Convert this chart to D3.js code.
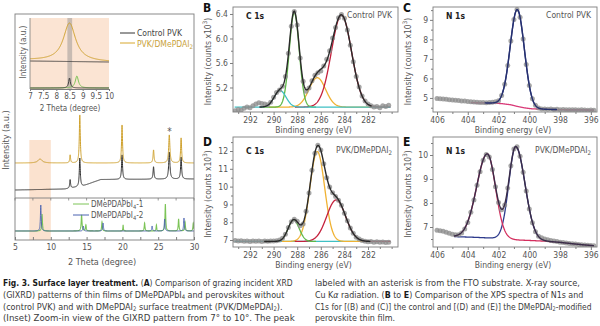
<!DOCTYPE html>
<html><head><meta charset="utf-8">
<script src="https://cdn.jsdelivr.net/npm/d3@7/dist/d3.min.js"></script>
<style>
html,body{margin:0;padding:0;background:#fff;overflow:hidden}
svg{display:block}
text{font-family:"Liberation Sans Narrow","Arial Narrow","DejaVu Sans Condensed","Liberation Sans",sans-serif}
</style></head><body>
<svg id="fig" width="600" height="326" viewBox="0 0 600 326"></svg>
<script>
// ================= DATA =================
// ---- Panel A (GIXRD) ----
const xrdTicks=[5,10,15,20,25,30];
const xrdMinor=[5,7.5,10,12.5,15,17.5,20,22.5,25,27.5,30];
const insetTicks=[7,7.5,8,8.5,9,9.5,10];
// baselines: [2theta, level]; peaks: [2theta, height, half-width]
const ctrlBase=[[5,7],[12,8],[14.5,11],[16,15],[17,17.5],[30,18]];
const ctrlPeaks=[[12.7,8.5,0.07],[14.05,28.5,0.08],[19.95,24.5,0.08],[24.35,12.4,0.08],[26.55,27,0.1],[28.2,22,0.08]];
const dmeBase=[[5,34],[30,34]];
const dmePeaks=[[8.5,4,0.35],[12.7,8,0.07],[14.05,48,0.08],[19.95,38,0.08],[24.35,13,0.08],[26.55,28,0.1],[28.2,25,0.08]];
const pbBase=[[5,9],[30,9]];
const pb1Peaks=[[8.78,17,0.06],[14.3,16,0.07],[14.9,6,0.06],[17.15,9,0.06],[20.1,6,0.04],[23.1,8,0.06],[24.75,6,0.05],[26.0,27,0.06],[27.85,12,0.06],[28.75,9,0.06],[29.9,8,0.06]];
const pb2Peaks=[[8.6,26,0.06],[14.55,5,0.06],[17.3,8,0.06],[24.15,5,0.06],[25.9,12,0.06],[28.6,13,0.06]];
// inset (7-10 deg)
const insetDmeBase=[[7,29],[10,27]];
const insetDmePeaks=[[8.5,38,0.28]];
const insetCtrlBase=[[7,28],[10,27]];
const insetLowBase=[[7,1],[10,1]];
const insetPb2Peaks=[[8.5,10,0.04]];
const insetPb1Peaks=[[8.78,12,0.07]];

// ---- Panels B & D (C 1s) ----
const bdE=[293.25,293,292.75,292.5,292.25,292,291.75,291.5,291.25,291,290.75,290.5,290.25,290,289.75,289.5,289.25,289,288.75,288.5,288.25,288,287.75,287.5,287.25,287,286.75,286.5,286.25,286,285.75,285.5,285.25,285,284.75,284.5,284.25,284,283.75,283.5,283.25,283,282.75,282.5,282.25,282,281.75,281.5,281.25,281,280.75,280.5,280.25];
const bI=[4.82,4.84,4.83,4.86,4.88,4.87,4.90,4.93,4.95,4.94,4.93,4.92,4.96,5.04,5.12,5.16,5.22,5.38,5.76,6.20,6.44,6.22,5.68,5.30,5.14,5.19,5.31,5.40,5.44,5.47,5.55,5.66,5.80,6.01,6.18,6.34,6.39,6.33,6.14,5.89,5.62,5.38,5.21,5.06,4.98,4.93,4.90,4.88,4.89,4.87,4.90,4.89,4.91];
const dI=[6.97,6.95,6.96,6.93,6.94,6.92,6.95,6.93,6.94,6.92,6.95,6.93,6.95,6.94,6.96,7.00,7.10,7.33,7.70,8.02,8.17,8.05,7.80,7.90,8.62,9.64,10.92,11.88,12.33,12.05,11.28,10.50,9.98,9.66,9.45,9.24,8.95,8.50,8.08,7.67,7.38,7.15,7.05,6.97,6.93,6.90,6.91,6.88,6.90,6.87,6.89,6.86,6.88];
const bBase=4.88, bCenters=[289.45,288.25,286.3,284.25], bAmps=[0.27,1.54,0.48,1.5], bWidths=[0.5,0.42,0.7,0.85];
const dBase=6.92, dCenters=[288.3,286.3,284.7], dAmps=[1.2,5.05,2.33], dWidths=[0.47,0.62,0.8];
const c1sMajor=[292,290,288,286,284,282], c1sMinor=[293,291,289,287,285,283,281,280];

// ---- Panels C & E (N 1s) ----
const ceE=[406,405.8,405.6,405.4,405.2,405,404.8,404.6,404.4,404.2,404,403.8,403.6,403.4,403.2,403,402.8,402.6,402.4,402.2,402,401.8,401.6,401.4,401.2,401,400.8,400.6,400.4,400.2,400,399.8,399.6,399.4,399.2,399,398.8,398.6,398.4,398.2,398,397.8,397.6,397.4,397.2,397,396.8,396.6,396.4,396.2,396,395.8];
const cI=[4.97,4.96,4.94,4.93,4.91,4.90,4.88,4.87,4.85,4.84,4.82,4.80,4.79,4.78,4.77,4.77,4.76,4.77,4.78,4.80,4.86,5.12,5.70,6.66,7.92,9.02,9.53,9.14,8.02,6.72,5.64,4.96,4.62,4.49,4.44,4.43,4.42,4.43,4.41,4.42,4.40,4.41,4.40,4.39,4.40,4.39,4.38,4.39,4.38,4.37,4.38,4.37];
const eI=[6.86,6.84,6.82,6.78,6.74,6.70,6.68,6.68,6.75,6.92,7.19,7.61,8.12,8.74,9.30,9.78,10.02,9.92,9.40,8.68,8.02,7.72,7.92,8.62,9.55,10.25,10.34,9.95,9.28,8.50,7.75,7.18,6.80,6.62,6.55,6.50,6.47,6.44,6.42,6.40,6.37,6.35,6.33,6.31,6.30,6.29,6.27,6.26,6.25,6.24,6.23,6.22];
const cCenters=[400.78], cAmps=[4.96], cWidthHi=[0.46], cWidthLo=[0.46];
const cBgE=[403.8,402.5,401.8,401.2,400.8,400.3,399.8,399,398,396,395.8];
const cBgI=[4.76,4.74,4.71,4.65,4.57,4.49,4.44,4.42,4.40,4.38,4.37];
const eCenters=[402.73,400.88], eAmps=[3.5,3.88], eWidthHi=[0.69,0.45], eWidthLo=[0.53,0.6];
const eBgE=[404.9,403.5,402.5,401.5,400.8,400,399,398,397,396,395.8];
const eBgI=[6.60,6.57,6.54,6.50,6.46,6.44,6.41,6.36,6.29,6.23,6.22];
const n1sMajor=[406,404,402,400,398,396], n1sMinor=[405,403,401,399,397];

// ================= DRAWING =================
const svg=d3.select('#fig');
const FR='#7d7d7d', TX='#555';

function rich(g,x,y,parts,o){
  const t=g.append('text').attr('x',x).attr('y',y).attr('font-size',o.size).attr('fill',o.fill||TX);
  if(o.anchor) t.attr('text-anchor',o.anchor);
  if(o.weight) t.attr('font-weight',o.weight);
  const subDy=o.subDy!=null?o.subDy:o.size*0.28, subSz=o.subSz||0.72;
  let shift=0;
  parts.forEach(p=>{
    const s=p[0], st=p[1]||'n';
    const ts=t.append('tspan').text(s);
    if(st==='sub'){ts.attr('dy',subDy).attr('font-size',o.size*subSz);shift=subDy;}
    else if(st==='sup'){ts.attr('dy',-o.size*0.42).attr('font-size',o.size*0.72);shift=-o.size*0.42;}
    else{
      if(shift){ts.attr('dy',-shift);shift=0;}
      if(st==='b') ts.attr('font-weight','bold').attr('fill',o.boldFill||null);
      if(st==='i') ts.attr('font-style','italic');
    }
  });
  return t;
}
// horizontally condense a text so it spans a given width (mimics the condensed caption face)
function fitWidth(t,x,y,target){
  const w=t.node().getComputedTextLength();
  const k=target/w;
  t.attr('transform',`translate(${x},${y}) scale(${k},1) translate(${-x},${-y})`);
  return k;
}
function rotLabel(x,y,parts,size){
  const g=svg.append('g').attr('transform',`translate(${x},${y}) rotate(-90)`);
  rich(g,0,0,parts,{size:size,anchor:'middle',fill:TX});
}
function lor(x,c,h,w){const z=(x-c)/w;return h/(1+z*z);}
function xrd(base,peaks,x0,x1,step){
  const bs=d3.scaleLinear().domain(base.map(d=>d[0])).range(base.map(d=>d[1])).clamp(true);
  const out=[];const n=Math.round((x1-x0)/step);
  for(let i=0;i<=n;i++){const x=x0+i*step;let v=bs(x);peaks.forEach(p=>{v+=lor(x,p[0],p[1],p[2]);});out.push([x,v]);}
  return out;
}

// ----- Panel A -----
const ax=d3.scaleLinear().domain([5,30]).range([15,194]);
const ayT=d3.scaleLinear().domain([0,183]).range([197,14]);
const ayB=d3.scaleLinear().domain([0,42]).range([240,198]);
svg.append('defs').append('clipPath').attr('id','clipA').append('rect').attr('x',15).attr('y',14).attr('width',179).attr('height',226);
svg.append('rect').attr('x',ax(7)).attr('y',140).attr('width',ax(10)-ax(7)).attr('height',100).attr('fill','#fbe2cf');
const gA=svg.append('g').attr('clip-path','url(#clipA)');
const lT=d3.line().x(d=>ax(d[0])).y(d=>ayT(d[1]));
const lB=d3.line().x(d=>ax(d[0])).y(d=>ayB(d[1]));
gA.append('path').attr('d',lT(xrd(ctrlBase,ctrlPeaks,5,30,0.01))).attr('fill','none').attr('stroke','#2e2e2e').attr('stroke-width',1);
gA.append('path').attr('d',lT(xrd(dmeBase,dmePeaks,5,30,0.01))).attr('fill','none').attr('stroke','#cfa12c').attr('stroke-width',1);
gA.append('path').attr('d',lB(xrd(pbBase,pb1Peaks,5,30,0.01))).attr('fill','none').attr('stroke','#7cc457').attr('stroke-width',1.1);
gA.append('path').attr('d',lB(xrd(pbBase,pb2Peaks,5,30,0.01))).attr('fill','none').attr('stroke','#4a62b0').attr('stroke-width',0.9);
svg.append('rect').attr('x',15).attr('y',14).attr('width',179).attr('height',226).attr('fill','none').attr('stroke',FR).attr('stroke-width',0.9);
svg.append('line').attr('x1',15).attr('x2',194).attr('y1',198).attr('y2',198).attr('stroke',FR).attr('stroke-width',0.9);
xrdMinor.forEach(v=>{svg.append('line').attr('x1',ax(v)).attr('x2',ax(v)).attr('y1',198).attr('y2',200.5).attr('stroke',FR).attr('stroke-width',0.8);});
const axA=svg.append('g').attr('transform','translate(0,240)').call(d3.axisBottom(ax).tickValues(xrdMinor).tickSize(-3).tickPadding(4).tickFormat(d=>xrdTicks.includes(d)?d:''));
axA.select('.domain').remove();
axA.selectAll('line').attr('stroke',FR);
axA.selectAll('text').attr('font-size',8.5).attr('fill',TX).attr('font-family',null);
svg.append('text').attr('x',169.5).attr('y',135).attr('text-anchor','middle').attr('font-size',10).attr('fill','#555').text('*');
rich(svg,102,265,[['2 Theta (degree)']],{size:9,anchor:'middle'});
rotLabel(9,140,[['Intensity (a.u.)']],9);
// legends
svg.append('line').attr('x1',120).attr('x2',135).attr('y1',33).attr('y2',33).attr('stroke','#333').attr('stroke-width',1);
rich(svg,137,36,[['Control PVK']],{size:8.5,fill:'#444'});
svg.append('line').attr('x1',120).attr('x2',135).attr('y1',43).attr('y2',43).attr('stroke','#d7a72c').attr('stroke-width',1);
rich(svg,137,46.5,[['PVK/DMePDAI'],['2','sub']],{size:8.5,fill:'#c9a23a'});
svg.append('line').attr('x1',73).attr('x2',89).attr('y1',204).attr('y2',204).attr('stroke','#7cc457').attr('stroke-width',1);
rich(svg,91,207,[['DMePDAPbI'],['4','sub'],['-1']],{size:8,fill:'#555'});
svg.append('line').attr('x1',73).attr('x2',89).attr('y1',215).attr('y2',215).attr('stroke','#4a62b0').attr('stroke-width',1);
rich(svg,91,218,[['DMePDAPbI'],['4','sub'],['-2']],{size:8,fill:'#555'});

// inset
const ix=d3.scaleLinear().domain([7,10]).range([30,109]);
const iy=d3.scaleLinear().domain([0,71]).range([89,18]);
svg.append('rect').attr('x',30).attr('y',18).attr('width',79).attr('height',71).attr('fill','#fbe4d3');
svg.append('rect').attr('x',ix(8.42)).attr('y',18).attr('width',ix(8.6)-ix(8.42)).attr('height',71).attr('fill','#8a8a8a').attr('fill-opacity',0.45);
const li=d3.line().x(d=>ix(d[0])).y(d=>iy(d[1]));
svg.append('path').attr('d',li(xrd(insetCtrlBase,[],7,10,0.01))).attr('fill','none').attr('stroke','#333').attr('stroke-width',0.9);
svg.append('path').attr('d',li(xrd(insetDmeBase,insetDmePeaks,7,10,0.01))).attr('fill','none').attr('stroke','#cfa12c').attr('stroke-width',1);
svg.append('path').attr('d',li(xrd(insetLowBase,insetPb1Peaks,7,10,0.01))).attr('fill','none').attr('stroke','#7cc457').attr('stroke-width',1);
svg.append('path').attr('d',li(xrd(insetLowBase,insetPb2Peaks,7,10,0.01))).attr('fill','none').attr('stroke','#333').attr('stroke-width',0.9);
svg.append('line').attr('x1',30).attr('x2',30).attr('y1',18).attr('y2',89).attr('stroke',FR).attr('stroke-width',0.8);
const axI=svg.append('g').attr('transform','translate(0,89)').call(d3.axisBottom(ix).tickValues(insetTicks).tickSize(2).tickPadding(2).tickFormat(d=>d));
axI.select('.domain').attr('stroke',FR);
axI.selectAll('line').attr('stroke',FR);
axI.selectAll('text').attr('font-size',8).attr('fill',TX).attr('font-family',null);
rich(svg,70,111,[['2 Theta (degree)']],{size:8,anchor:'middle'});
rotLabel(26,52,[['Intensity (a.u.)']],8);

// ----- XPS panels -----
function gss(E,c,a,sh,sl){const s=E>c?sh:sl;const z=(E-c)/s;return a*Math.exp(-0.5*z*z);}
function xps(o){
  const x=d3.scaleLinear().domain(o.xDom).range([o.l,o.r]);
  const y=d3.scaleLinear().domain(o.yDom).range([o.b,o.t]);
  svg.append('clipPath').attr('id','cl'+o.id).append('rect').attr('x',o.l).attr('y',o.t).attr('width',o.r-o.l).attr('height',o.b-o.t);
  const pg=svg.append('g').attr('clip-path',`url(#cl${o.id})`);
  const line=d3.line().x(d=>x(d[0])).y(d=>y(d[1]));
  const samp=(a,b,f)=>{const out=[];const n=Math.ceil(Math.abs(a-b)/0.02);for(let i=0;i<=n;i++){const E=a+(b-a)*i/n;out.push([E,f(E)]);}return out;};
  o.comps.forEach(c=>{
    pg.append('path').attr('d',line(samp(c.r[0],c.r[1],E=>o.bg(E)+(c.f?c.f(E):0)))).attr('fill','none').attr('stroke',c.col).attr('stroke-width',1.3);
  });
  pg.selectAll(null).data(o.E.map((e,i)=>[e,o.I[i]])).enter().append('circle')
    .attr('cx',d=>x(d[0])).attr('cy',d=>y(d[1])).attr('r',2.5).attr('fill','#8d8d8d').attr('fill-opacity',0.78);
  pg.append('path').attr('d',line(samp(o.env[0],o.env[1],E=>o.bg(E)+o.sum(E)))).attr('fill','none').attr('stroke',o.envCol).attr('stroke-width',1.4);
  svg.append('rect').attr('x',o.l).attr('y',o.t).attr('width',o.r-o.l).attr('height',o.b-o.t).attr('fill','none').attr('stroke',FR).attr('stroke-width',0.9);
  const style=(g)=>{g.select('.domain').remove();g.selectAll('line').attr('stroke',FR);g.selectAll('text').attr('font-size',8.5).attr('fill',TX).attr('font-family',null);};
  svg.append('g').attr('transform',`translate(0,${o.b})`).call(d3.axisBottom(x).tickValues(o.xMaj).tickSize(3).tickPadding(1.5).tickFormat(d3.format('d'))).call(style);
  svg.append('g').attr('transform',`translate(0,${o.b})`).call(d3.axisBottom(x).tickValues(o.xMin).tickSize(2).tickFormat('')).call(style);
  svg.append('g').attr('transform',`translate(${o.l},0)`).call(d3.axisLeft(y).tickValues(o.yMaj).tickSize(3).tickPadding(2).tickFormat(d3.format(o.yFmt))).call(style);
  svg.append('g').attr('transform',`translate(${o.l},0)`).call(d3.axisLeft(y).tickValues(o.yMin).tickSize(2).tickFormat('')).call(style);
  rich(svg,(o.l+o.r)/2-2,o.b+21,[['Binding energy (eV)']],{size:8.5,anchor:'middle'});
  rotLabel(o.l-22,(o.t+o.b)/2+2,[['Intensity (counts x10'],['3','sup'],[')']],8.5);
  rich(svg,o.l+13,o.t+o.lblDy,[[o.core]],{size:8.5,fill:'#222',weight:'bold'});
  rich(svg,o.r-6,o.t+o.lblDy-1,o.tag,{size:8.5,anchor:'end',fill:'#555'});
  rich(svg,o.l-30,o.t+o.letDy,[[o.letter]],{size:12,fill:'#111',weight:'bold'}).attr('font-family','"Liberation Sans",Arial,sans-serif');
}
const mk=(cs,as,sh,sl,i)=>(E=>gss(E,cs[i],as[i],sh[i],sl[i]));
const sumOf=(cs,as,sh,sl)=>(E=>cs.reduce((s,c,i)=>s+gss(E,c,as[i],sh[i],sl[i]),0));

// B
xps({id:'B',l:233,r:398,t:7,b:112,xDom:[293.44,279.46],yDom:[4.8,6.514],E:bdE,I:bI,
  bg:()=>bBase,
  comps:[{r:[290.4,281.6],col:'#f0b233',f:mk(bCenters,bAmps,bWidths,bWidths,2)},
         {r:[288.2,280.1],col:'#c4203c',f:mk(bCenters,bAmps,bWidths,bWidths,3)},
         {r:[291,286.4],col:'#5fb848',f:mk(bCenters,bAmps,bWidths,bWidths,1)},
         {r:[293.3,280.1],col:'#3fc0c4',f:mk(bCenters,bAmps,bWidths,bWidths,0)}],
  env:[291.2,281.7],envCol:'#2a2a2a',sum:sumOf(bCenters,bAmps,bWidths,bWidths),
  xMaj:c1sMajor,xMin:c1sMinor,yMaj:[5.2,5.6,6.0,6.4],yMin:[5.0,5.4,5.8,6.2],yFmt:'.1f',
  core:'C 1s',tag:[['Control PVK']],lblDy:12,letter:'B',letDy:5});
// C
xps({id:'C',l:433,r:597,t:7,b:112,xDom:[406.26,395.6],yDom:[4.28,9.66],E:ceE,I:cI,
  bg:d3.scaleLinear().domain(cBgE).range(cBgI).clamp(true),
  comps:[{r:[403.8,395.8],col:'#2d3a8c',f:mk(cCenters,cAmps,cWidthHi,cWidthLo,0)},
         {r:[403.8,395.8],col:'#d93a78'}],
  env:[402.9,398.2],envCol:'#26306e',sum:sumOf(cCenters,cAmps,cWidthHi,cWidthLo),
  xMaj:n1sMajor,xMin:n1sMinor,yMaj:[5,6,7,8,9],yMin:[4.5,5.5,6.5,7.5,8.5,9.5],yFmt:'d',
  core:'N 1s',tag:[['Control PVK']],lblDy:12,letter:'C',letDy:5});
// D
xps({id:'D',l:233,r:398,t:137,b:247,xDom:[293.44,279.46],yDom:[6.607,12.787],E:bdE,I:dI,
  bg:()=>dBase,
  comps:[{r:[293.3,280.1],col:'#3fc0c4'},
         {r:[289.3,281.8],col:'#f0b233',f:mk(dCenters,dAmps,dWidths,dWidths,1)},
         {r:[288.2,280.1],col:'#c4203c',f:mk(dCenters,dAmps,dWidths,dWidths,2)},
         {r:[290.8,286.4],col:'#5fb848',f:mk(dCenters,dAmps,dWidths,dWidths,0)}],
  env:[290.8,281.8],envCol:'#2a2a2a',sum:sumOf(dCenters,dAmps,dWidths,dWidths),
  xMaj:c1sMajor,xMin:c1sMinor,yMaj:[7,8,9,10,11,12],yMin:[7.5,8.5,9.5,10.5,11.5,12.5],yFmt:'d',
  core:'C 1s',tag:[['PVK/DMePDAI'],['2','sub']],lblDy:17,letter:'D',letDy:9});
// E
xps({id:'E',l:433,r:597,t:137,b:247,xDom:[406.26,395.6],yDom:[6.167,10.75],E:ceE,I:eI,
  bg:d3.scaleLinear().domain(eBgE).range(eBgI).clamp(true),
  comps:[{r:[404.9,395.8],col:'#2d3a8c',f:mk(eCenters,eAmps,eWidthHi,eWidthLo,1)},
         {r:[404.9,395.8],col:'#d42e5e',f:mk(eCenters,eAmps,eWidthHi,eWidthLo,0)}],
  env:[404.9,395.8],envCol:'#3a2c48',sum:sumOf(eCenters,eAmps,eWidthHi,eWidthLo),
  xMaj:n1sMajor,xMin:n1sMinor,yMaj:[7,8,9,10],yMin:[6.5,7.5,8.5,9.5,10.5],yFmt:'d',
  core:'N 1s',tag:[['PVK/DMePDAI'],['2','sub']],lblDy:17,letter:'E',letDy:9});

// ----- Caption -----
const capL=[
 [[['Fig. 3. Surface layer treatment.','b'],[' ('],['A','b'],[') Comparison of grazing incident XRD']],290],
 [[['(GIXRD) patterns of thin films of DMePDAPbI'],['4','sub'],[' and perovskites without']],282],
 [[['(control PVK) and with DMePDAI'],['2','sub'],[' surface treatment (PVK/DMePDAI'],['2','sub'],[').']],280],
 [[['(Inset) Zoom-in view of the GIXRD pattern from 7° to 10°. The peak']],292]];
const capR=[
 [[['labeled with an asterisk is from the FTO substrate. X-ray source,']],265],
 [[['Cu K'],['α','i'],[' radiation. ('],['B','b'],[' to '],['E','b'],[') Comparison of the XPS spectra of N1s and']],269],
 [[['C1s for [(B) and (C)] the control and [(D) and (E)] the DMePDAI'],['2','sub'],['-modified']],277],
 [[['perovskite thin film.']],0]];
const capY=[286,297.8,309.6,321.4];
const ks=[];
const pending=[];
[[capL,3],[capR,315]].forEach(([lines,x0])=>{
  lines.forEach((c,i)=>{
    const t=rich(svg,x0,capY[i],c[0],{size:9.5,fill:'#3a3a3a',boldFill:'#1a1a1a',subDy:1.3,subSz:0.66});
    if(c[1]) ks.push(fitWidth(t,x0,capY[i],c[1])); else pending.push([t,x0,capY[i]]);
  });
});
const kMean=d3.mean(ks);
pending.forEach(([t,x,y])=>t.attr('transform',`translate(${x},${y}) scale(${kMean},1) translate(${-x},${-y})`));
</script>
</body></html>
